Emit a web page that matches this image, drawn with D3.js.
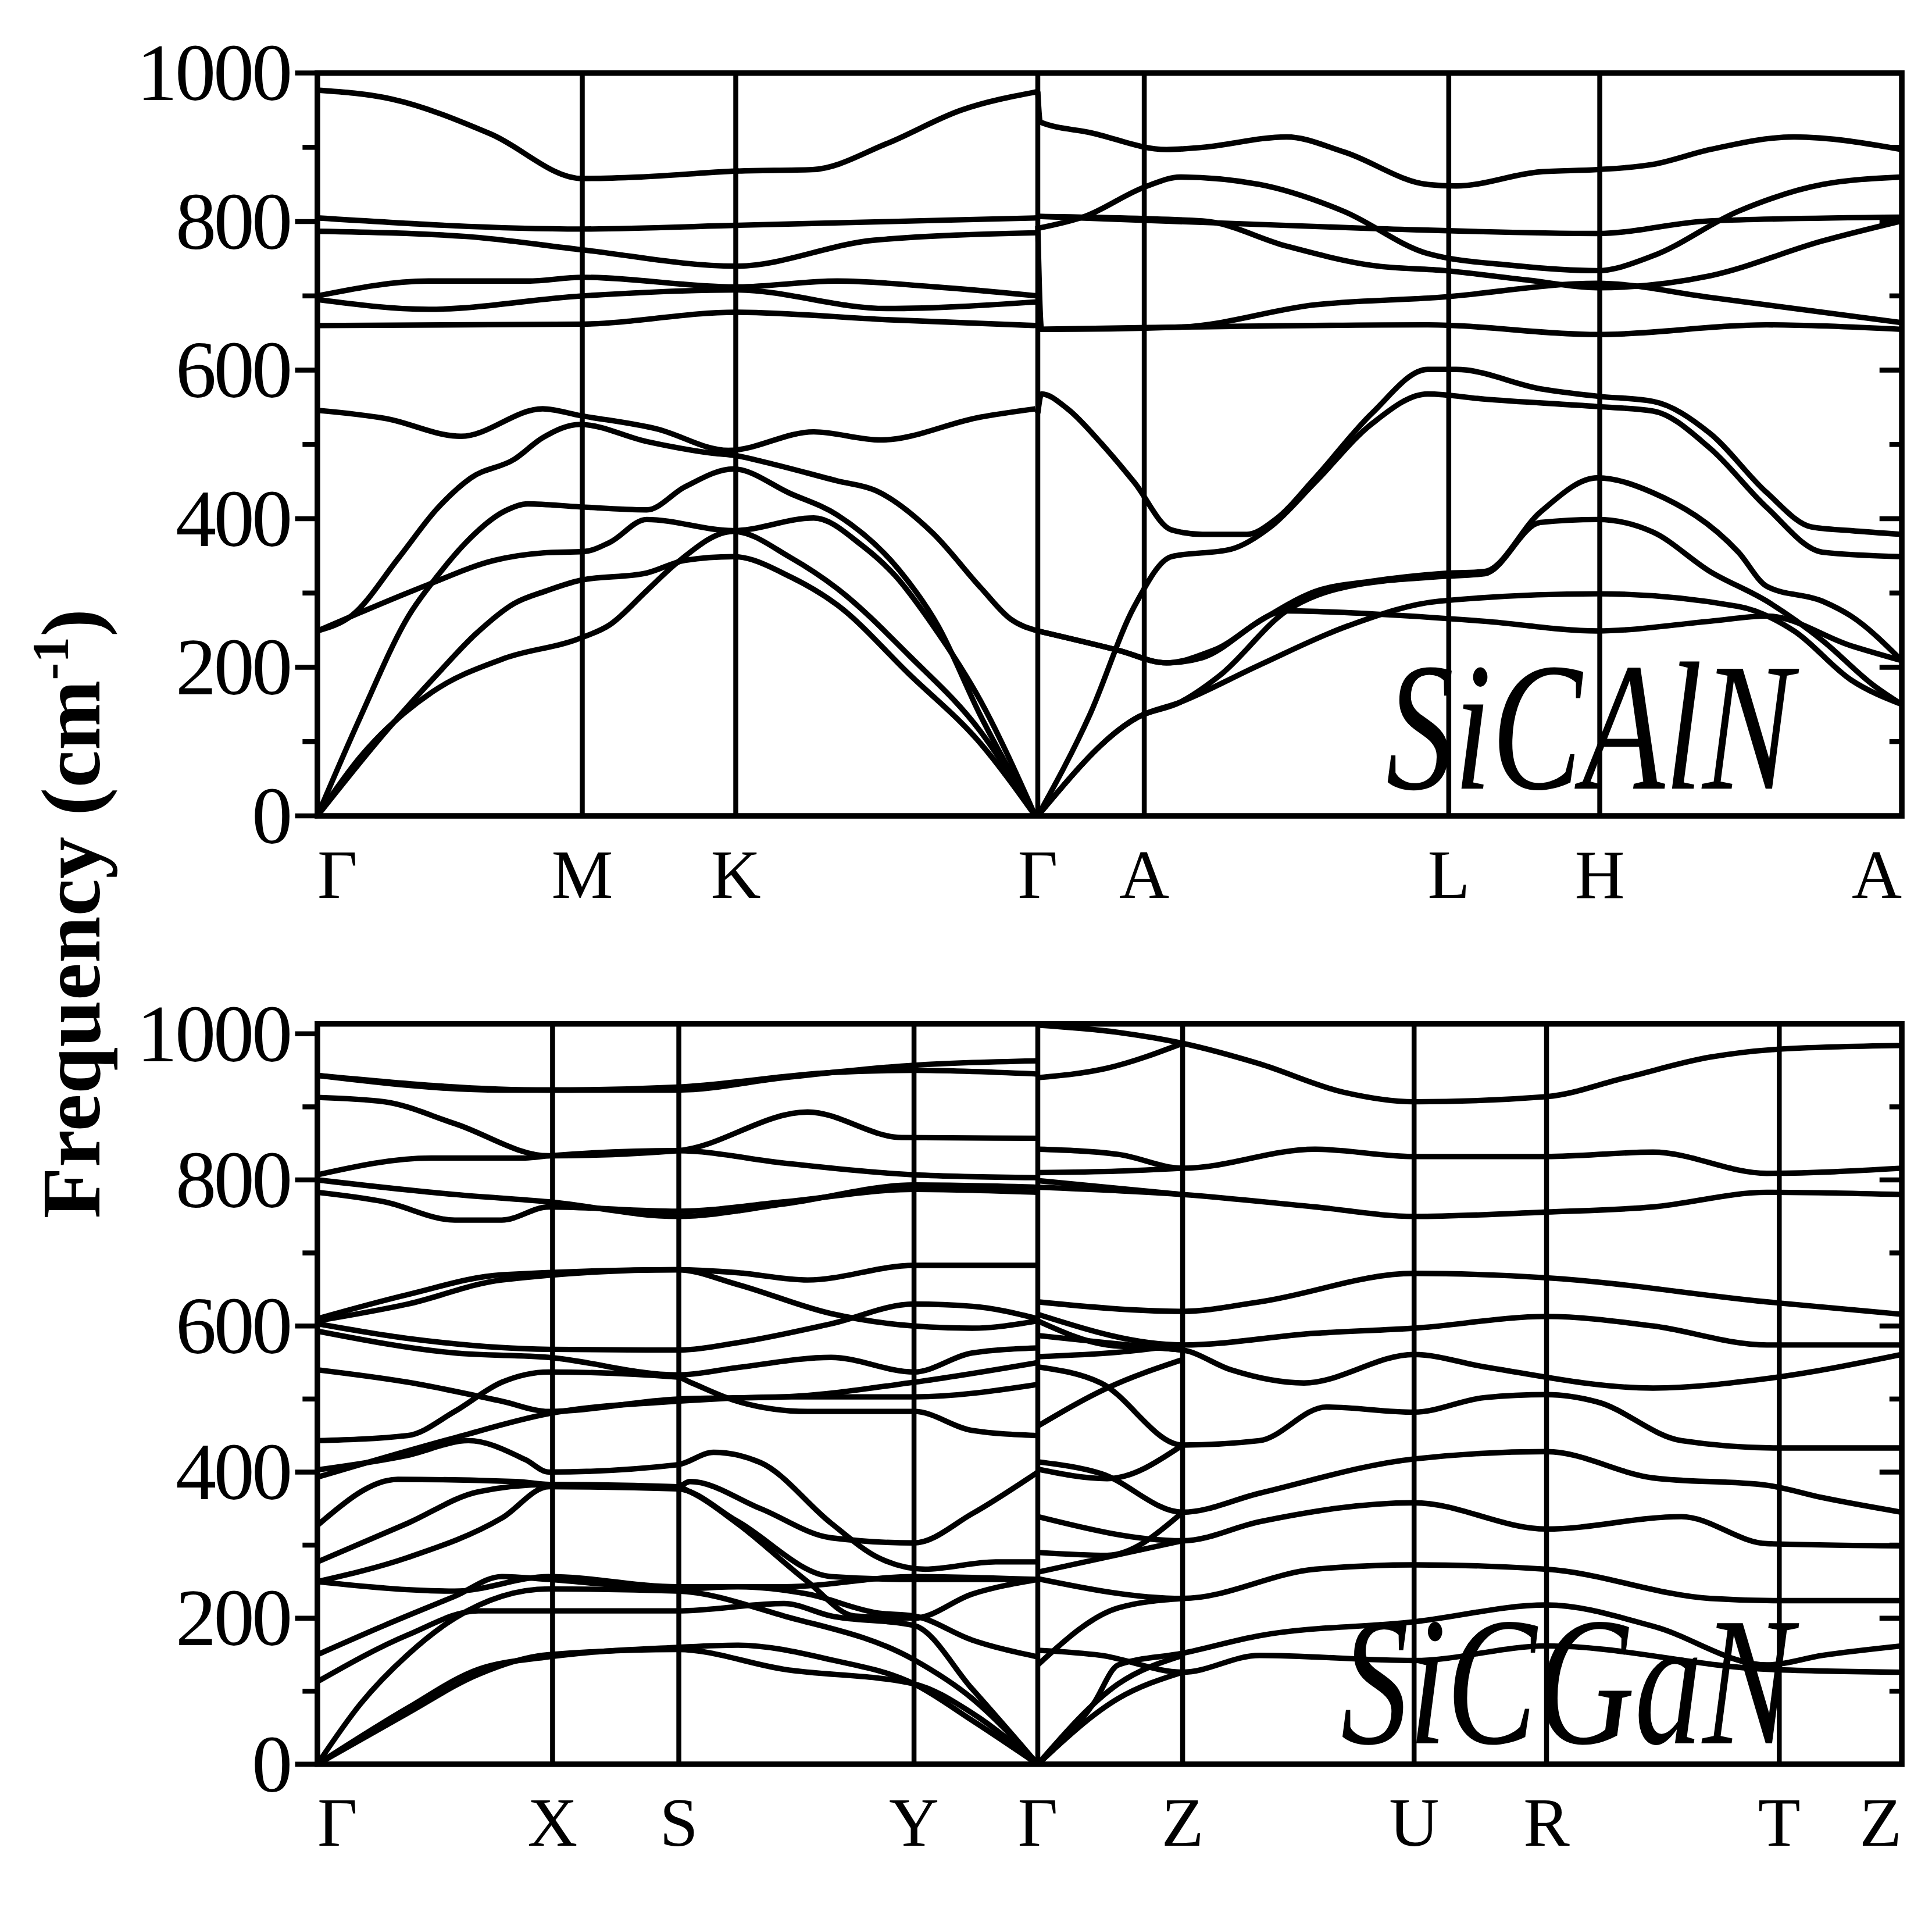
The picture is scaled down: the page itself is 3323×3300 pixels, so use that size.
<!DOCTYPE html>
<html>
<head>
<meta charset="utf-8">
<script src="https://cdn.jsdelivr.net/npm/d3@7"></script>
<style>
  body { margin: 0; background: #fff; }
  text { font-family: "Liberation Serif", "DejaVu Serif", serif; fill: #000; }
</style>
</head>
<body>
<div id="chart"></div>
<script>
// phonon dispersion, two panels

// k-path (path distance units) and labels
var topTicks = [0, 214, 338, 582, 668, 914, 1036, 1280];
var topLabels = ["Γ", "M", "K", "Γ", "A", "L", "H", "A"];
var botTicks = [0, 190, 292, 482, 582, 699, 886, 993, 1181, 1280];
var botLabels = ["Γ", "X", "S", "Y", "Γ", "Z", "U", "R", "T", "Z"];
var freqTicks = [0, 200, 400, 600, 800, 1000];

// SiCAlN bands: [k, frequency]
var topBands = [
  [[0,977],[60,965],[140,918],[214,858],[260,860],[338,868],[400,870],[460,905],[520,950],[582,975]],
  [[0,805],[214,790],[338,795],[460,800],[582,805]],
  [[0,787],[120,780],[214,762],[338,740],[450,775],[582,785]],
  [[0,700],[90,720],[170,720],[214,725],[338,712],[420,720],[500,712],[582,700]],
  [[0,695],[90,682],[214,700],[338,708],[460,683],[582,692]],
  [[0,660],[214,662],[338,678],[460,668],[582,660]],
  [[0,546],[55,535],[116,511],[182,548],[212,539],[274,521],[332,492],[401,517],[455,506],[536,537],[580,548]],
  [[0,249],[28,270],[66,348],[97,414],[124,455],[159,480],[182,509],[212,527],[266,504],[320,488],[338,485],[362,476],[420,451],[451,438],[497,381],[536,307],[560,265],[582,249]],
  [[0,0],[35,134],[74,270],[97,323],[120,368],[151,410],[170,420],[212,416],[266,412],[297,443],[336,467],[382,434],[420,405],[470,331],[501,257],[536,134],[580,0]],
  [[0,249],[35,274],[89,311],[143,344],[182,354],[216,356],[236,368],[266,399],[336,384],[401,401],[440,364],[467,323],[497,257],[536,154],[580,0]],
  [[0,0],[55,113],[97,191],[128,245],[159,286],[185,303],[212,317],[266,327],[297,344],[336,349],[382,322],[420,284],[478,191],[536,97],[580,0]],
  [[0,0],[35,80],[93,167],[151,212],[212,239],[236,257],[266,303],[290,340],[336,383],[382,348],[420,306],[478,216],[536,113],[580,0]],
  // Γ-A-L-H-A
  [[582,975],[584,934],[624,920],[686,897],[715,900],[783,914],[829,894],[897,850],[920,848],[988,867],[1034,870],[1079,877],[1125,897],[1193,914],[1280,897]],
  [[582,791],[620,807],[669,847],[697,860],[761,850],[829,814],[897,757],[966,741],[1034,734],[1079,754],[1148,814],[1216,850],[1280,860]],
  [[582,807],[847,791],[1034,784],[1125,801],[1280,806]],
  [[582,807],[715,801],[783,767],[852,741],[911,734],[979,721],[1034,711],[1125,727],[1216,774],[1280,801]],
  [[582,794],[585,655],[697,658],[806,688],[906,698],[1034,717],[1125,698],[1280,664]],
  [[582,655],[897,661],[1034,648],[1171,661],[1280,655]],
  [[582,542],[585,568],[606,548],[633,502],[660,449],[690,385],[715,379],[751,379],[774,399],[806,455],[852,542],[897,601],[920,601],[988,575],[1034,565],[1079,558],[1125,515],[1171,435],[1207,389],[1239,384],[1280,379]],
  [[582,0],[624,136],[660,282],[690,349],[738,359],[770,389],[806,449],[852,528],[897,568],[943,561],[1034,551],[1079,545],[1125,495],[1171,415],[1216,355],[1280,349]],
  [[582,249],[647,223],[686,206],[715,213],[761,262],[806,302],[852,316],[906,326],[943,329],[988,409],[1034,455],[1079,435],[1148,355],[1171,309],[1216,289],[1239,269],[1280,209]],
  [[582,0],[663,133],[697,153],[761,203],[833,256],[906,289],[1034,299],[1148,282],[1193,249],[1239,183],[1280,150]],
  [[582,0],[663,133],[697,153],[729,189],[783,276],[833,309],[906,322],[943,326],[988,395],[1034,399],[1079,382],[1125,329],[1171,289],[1216,236],[1257,176],[1280,150]],
  [[582,249],[647,223],[686,206],[724,223],[783,276],[852,272],[943,262],[1034,249],[1125,262],[1171,269],[1239,229],[1280,209]]
];

// SiCGaN bands
var botBands = [
  [[0,943],[149,923],[187,923],[291,923],[377,940],[482,957],[582,963]],
  [[0,943],[187,923],[291,927],[415,947],[482,950],[582,945]],
  [[0,913],[54,907],[111,877],[187,833],[291,840],[396,893],[472,858],[582,857]],
  [[0,807],[92,830],[168,830],[187,833],[291,840],[377,823],[482,807],[582,803]],
  [[0,800],[111,780],[187,770],[291,750],[377,767],[482,793],[582,790]],
  [[0,783],[54,770],[111,745],[149,745],[187,763],[291,757],[377,770],[482,787],[582,783]],
  [[0,610],[73,643],[149,670],[291,677],[339,673],[396,663],[482,683],[582,683]],
  [[0,607],[73,630],[149,663],[291,677],[339,657],[415,617],[482,600],[529,597],[582,607]],
  [[0,603],[73,583],[187,568],[291,567],[339,577],[415,603],[482,630],[529,627],[582,610]],
  [[0,593],[111,563],[187,557],[291,533],[339,543],[415,557],[482,537],[529,563],[582,570]],
  [[0,540],[73,523],[149,497],[187,483],[291,500],[377,503],[482,523],[582,550]],
  [[0,443],[73,450],[111,483],[149,523],[187,537],[291,530],[301,523],[339,497],[396,483],[482,483],[529,457],[582,450]],
  [[0,403],[73,423],[122,443],[168,417],[187,400],[291,410],[320,427],[358,413],[415,330],[453,283],[491,267],[548,277],[582,277]],
  [[0,393],[111,447],[187,480],[291,497],[377,503],[482,503],[582,520]],
  [[0,327],[65,390],[160,387],[187,383],[291,380],[301,387],[358,350],[415,310],[482,303],[529,343],[582,400]],
  [[0,277],[73,330],[130,373],[187,383],[291,380],[301,373],[339,330],[396,250],[434,203],[482,200],[529,233],[582,253]],
  [[0,250],[73,283],[149,337],[187,380],[291,377],[339,333],[415,257],[482,253],[582,253]],
  [[0,250],[111,237],[187,257],[291,243],[377,243],[482,257],[582,253]],
  [[0,150],[54,190],[111,230],[149,257],[187,253],[291,240],[339,243],[396,233],[453,207],[482,203],[529,170],[582,147]],
  [[0,113],[73,177],[130,210],[187,210],[291,210],[377,220],[415,203],[482,190],[529,103],[582,0]],
  [[0,0],[35,83],[73,150],[111,200],[149,230],[187,240],[291,237],[377,203],[482,143],[529,90],[582,0]],
  [[0,0],[73,70],[130,123],[187,150],[291,157],[377,130],[482,110],[529,70],[582,0]],
  [[0,0],[73,77],[130,130],[187,147],[291,160],[339,163],[415,143],[482,110],[529,60],[582,0]],
  // Γ-Z-U-R-T-Z
  [[582,1012],[647,1002],[699,987],[761,959],[829,920],[886,907],[993,914],[1057,940],[1125,968],[1181,979],[1280,984]],
  [[582,940],[638,953],[699,987]],
  [[582,842],[647,835],[699,816],[806,842],[886,832],[993,832],[1079,838],[1171,809],[1280,816]],
  [[582,810],[647,812],[699,816]],
  [[582,790],[699,780],[806,763],[886,750],[993,756],[1079,763],[1171,783],[1280,780]],
  [[582,799],[699,780]],
  [[582,633],[699,620],[761,633],[886,672],[993,666],[1171,633],[1280,616]],
  [[582,616],[699,574],[806,590],[886,597],[993,613],[1079,600],[1171,574],[1280,574]],
  [[582,607],[638,574],[699,567],[738,540],[797,522],[886,561],[943,544],[1079,515],[1171,528],[1280,561]],
  [[582,587],[638,577],[699,567]],
  [[582,558],[647,564],[699,574]],
  [[582,544],[633,522],[699,437],[761,443],[815,489],[886,482],[943,502],[993,506],[1034,496],[1102,443],[1180,433],[1280,433]],
  [[582,463],[638,515],[699,554]],
  [[582,414],[633,398],[699,345],[761,371],[886,418],[993,428],[1079,392],[1171,382],[1216,365],[1280,345]],
  [[582,404],[638,391],[699,437]],
  [[582,339],[699,306],[761,332],[886,358],[993,322],[1102,339],[1171,302],[1280,299]],
  [[582,290],[638,286],[699,345]],
  [[582,263],[699,306]],
  [[582,254],[699,227],[806,267],[886,273],[993,267],[1125,227],[1180,224],[1280,224]],
  [[582,156],[633,149],[699,126],[761,149],[886,142],[993,162],[1171,130],[1280,126]],
  [[582,136],[647,214],[699,227]],
  [[582,0],[627,83],[647,136],[699,152],[761,176],[886,195],[993,218],[1079,189],[1171,136],[1216,149],[1280,162]],
  [[582,0],[647,110],[699,149]],
  [[582,0],[647,90],[699,126]]
];

var W = 1560, H = 1550;
var svg = d3.select("#chart").append("svg")
  .attr("width", 3323).attr("height", 3300)
  .attr("viewBox", "0 0 " + W + " " + H);
svg.append("rect").attr("width", W).attr("height", H).attr("fill", "#fff");

var makePanel = function(bands, ticks, labels, top, bottom, fmax, name, nameY) {
  var x = d3.scaleLinear().domain([0, 1280]).range([256, 1536]);
  var y = d3.scaleLinear().domain([0, fmax]).range([bottom, top]);
  var g = svg.append("g");

  var line = d3.line()
    .x(function(d) { return x(d[0]); })
    .y(function(d) { return y(d[1]); })
    .curve(d3.curveMonotoneX);

  // high-symmetry lines
  g.selectAll("line.sym").data(ticks.slice(1, -1)).enter().append("line")
    .attr("x1", function(d) { return x(d); }).attr("x2", function(d) { return x(d); })
    .attr("y1", top).attr("y2", bottom)
    .attr("stroke", "#000").attr("stroke-width", 4);

  g.selectAll("path.band").data(bands).enter().append("path")
    .attr("d", line).attr("fill", "none")
    .attr("stroke", "#000").attr("stroke-width", 4.4)
    .attr("stroke-linejoin", "round");

  g.append("rect").attr("x", 256).attr("y", top)
    .attr("width", 1280).attr("height", bottom - top)
    .attr("fill", "none").attr("stroke", "#000").attr("stroke-width", 4.5);

  // y ticks: left outward, right inward
  var minor = d3.range(100, 1000, 200);
  g.selectAll("line.lt").data(freqTicks.concat(minor)).enter().append("line")
    .attr("x1", function(d) { return minor.indexOf(d) >= 0 ? 244 : 238; }).attr("x2", 256)
    .attr("y1", function(d) { return y(d); }).attr("y2", function(d) { return y(d); })
    .attr("stroke", "#000").attr("stroke-width", 4);
  g.selectAll("line.rt").data(d3.range(100, 1000, 100)).enter().append("line")
    .attr("x1", 1536).attr("x2", function(d) { return d % 200 == 0 ? 1518 : 1526; })
    .attr("y1", function(d) { return y(d); }).attr("y2", function(d) { return y(d); })
    .attr("stroke", "#000").attr("stroke-width", 4);

  g.selectAll("text.yt").data(freqTicks).enter().append("text")
    .attr("x", 236).attr("y", function(d) { return y(d) + 22; })
    .attr("text-anchor", "end").attr("font-size", 66)
    .attr("textLength", function(d) { return String(d).length * 31.5; })
    .text(function(d) { return d; });

  g.selectAll("text.xt").data(ticks).enter().append("text")
    .attr("x", function(d) { return x(d); })
    .attr("y", bottom + 66)
    .attr("text-anchor", function(d, i) { return i == 0 ? "start" : (i == ticks.length - 1 ? "end" : "middle"); })
    .attr("font-size", 56)
    .text(function(d, i) { return labels[i]; });

  g.append("text")
    .attr("transform", "translate(1448," + nameY + ") scale(0.74,1)")
    .attr("text-anchor", "end").attr("font-style", "italic")
    .attr("font-size", 148)
    .text(name);
};

makePanel(topBands, topTicks, topLabels, 59, 659, 1000, "SiCAlN", 637);
makePanel(botBands, botTicks, botLabels, 827, 1425, 1013.6, "SiCGaN", 1408);

svg.append("text")
  .attr("transform", "translate(80,738) rotate(-90)")
  .attr("text-anchor", "middle").attr("font-weight", "bold")
  .attr("font-size", 68)
  .html('Frequency (cm<tspan dy="-26" font-size="42">-1</tspan><tspan dy="26">)</tspan>');
</script>
</body>
</html>
